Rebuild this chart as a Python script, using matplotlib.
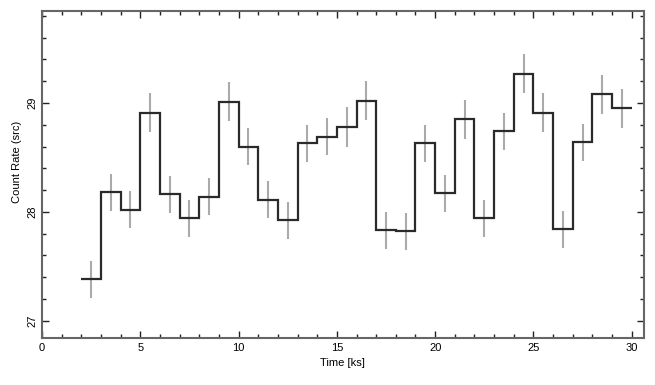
import matplotlib
matplotlib.use("Agg")
import matplotlib.pyplot as plt
import numpy as np
from matplotlib.ticker import MultipleLocator

plt.rcParams['font.family'] = ['Liberation Sans', 'DejaVu Sans']

bin_edges = [2, 3, 4, 5, 6, 7, 8, 9, 10, 11, 12, 13, 14, 15, 16, 17, 18,
             19, 20, 21, 22, 23, 24, 25, 26, 27, 28, 29, 30]
rates = [27.38, 28.18, 28.02, 28.91, 28.16, 27.94, 28.14, 29.01, 28.60,
         28.11, 27.92, 28.63, 28.69, 28.78, 29.02, 27.83, 27.82, 28.63,
         28.17, 28.85, 27.94, 28.74, 29.27, 28.91, 27.84, 28.64, 29.08,
         28.95]
errors = [0.17, 0.17, 0.17, 0.18, 0.17, 0.17, 0.17, 0.18, 0.17, 0.17,
          0.17, 0.17, 0.17, 0.18, 0.18, 0.17, 0.17, 0.17, 0.17, 0.18,
          0.17, 0.17, 0.18, 0.18, 0.17, 0.17, 0.18, 0.18]

edges = np.array(bin_edges, dtype=float)
centers = 0.5 * (edges[:-1] + edges[1:])

fig = plt.figure(figsize=(6.55, 3.85), dpi=100)
ax = fig.add_axes([42 / 655, 1 - 338 / 385, (643.5 - 42) / 655, (338 - 10.5) / 385])

ax.errorbar(centers, rates, yerr=errors, fmt='none', ecolor='#aaaaaa',
            elinewidth=1.5, capsize=0, zorder=2)
ax.stairs(rates, edges, color='#2a2a2a', linewidth=1.6, baseline=None, zorder=3)

ax.set_xlim(0, 30.6)
ax.set_ylim(26.84, 29.85)

ax.xaxis.set_major_locator(MultipleLocator(5))
ax.xaxis.set_minor_locator(MultipleLocator(1))
ax.yaxis.set_major_locator(MultipleLocator(1))
ax.yaxis.set_minor_locator(MultipleLocator(0.2))

ax.tick_params(which='both', direction='in', top=True, right=True,
               color='#222222', labelsize=8)
ax.tick_params(which='major', length=5, width=1)
ax.tick_params(which='minor', length=3, width=1)
for lab in ax.get_yticklabels():
    lab.set_rotation(90)
    lab.set_va('center')
for s in ax.spines.values():
    s.set_color('#666666')
    s.set_linewidth(1.5)

ax.set_xlabel('Time [ks]', fontsize=8)
ax.set_ylabel('Count Rate (src)', fontsize=8)
ax.yaxis.set_label_coords(-0.033, 0.539)

fig.savefig('out.png', dpi=100)
